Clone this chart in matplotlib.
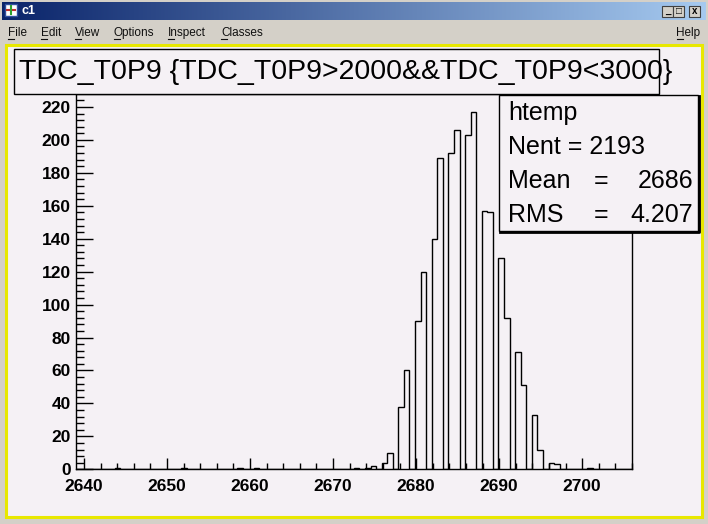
import matplotlib
matplotlib.use('Agg')
import matplotlib.pyplot as plt
import numpy as np
from matplotlib.patches import Rectangle
from matplotlib.ticker import MultipleLocator

plt.rcParams['font.family'] = ['Liberation Sans', 'DejaVu Sans']

# TDC values (integer channels) and entries per channel
tdc_values = [2644, 2652, 2659, 2661, 2673, 2674, 2675, 2676, 2677,
              2678, 2679, 2680, 2681, 2682, 2683, 2684, 2685, 2686, 2687,
              2688, 2689, 2690, 2691, 2692, 2693, 2694, 2695, 2696, 2697, 2701]
tdc_counts = [1, 1, 1, 1, 1, 1, 2, 4, 10,
              38, 60, 90, 120, 140, 189, 192, 206, 203, 217,
              157, 156, 128, 92, 71, 51, 33, 12, 4, 3, 1]
n_bins = 100
x_range = (2639, 2706)

title = 'TDC_T0P9 {TDC_T0P9>2000&&TDC_T0P9<3000}'
stats_name = 'htemp'
stats_nent = '2193'
stats_mean = '2686'
stats_rms = '4.207'
menu_items = ['File', 'Edit', 'View', 'Options', 'Inspect', 'Classes']
menu_x = [8, 41, 75, 114, 168, 221]

W, H = 708, 524
canvas_col = '#f5f1f5'
fig = plt.figure(figsize=(W / 100, H / 100), dpi=100, facecolor='#d4d0c8')

# ---- window chrome (pixel coordinates, origin top-left)
bg = fig.add_axes([0, 0, 1, 1], zorder=0)
bg.set_xlim(0, W)
bg.set_ylim(H, 0)
bg.axis('off')

grad = np.linspace(0, 1, 256).reshape(1, -1)
cmap = matplotlib.colors.LinearSegmentedColormap.from_list('tb', ['#0a246a', '#a6caf0'])
bg.imshow(grad, cmap=cmap, extent=(2, W - 2, 20, 2), aspect='auto', zorder=1)
bg.add_patch(Rectangle((5, 4), 12, 12, facecolor='#ffffff', edgecolor='#3050a0', lw=1, zorder=2))
bg.plot([7, 15], [10, 10], color='#c03030', lw=1.5, zorder=3)
bg.plot([11, 11], [6, 14], color='#30a030', lw=1.5, zorder=3)
bg.text(21, 11.5, 'c1', color='white', fontsize=9, fontweight='bold', va='center', zorder=3)
for bx, glyph in zip([662, 673, 689], ['_', '□', 'x']):
    bg.add_patch(Rectangle((bx, 6), 11, 11, facecolor='#d4d0c8', edgecolor='#404040', lw=0.8, zorder=2))
    bg.text(bx + 5.5, 11.5, glyph, fontsize=7, fontweight='bold', ha='center', va='center', zorder=3)

for name, mx in zip(menu_items, menu_x):
    bg.text(mx, 36, name, fontsize=8.5, va='baseline', color='#101010')
    bg.plot([mx, mx + 5.5], [38.5, 38.5], color='#101010', lw=0.8)
bg.text(700, 36, 'Help', fontsize=8.5, va='baseline', ha='right', color='#101010')
bg.plot([677, 683], [38.5, 38.5], color='#101010', lw=0.8)

bg.add_patch(Rectangle((5.5, 45), 696.5, 472, facecolor=canvas_col,
                       edgecolor='#e8e800', lw=2.2, zorder=1))

# ---- histogram pad
L, R, T, B = 75.7, 632, 94, 469.3
ax = fig.add_axes([L / W, (H - B) / H, (R - L) / W, (B - T) / H], zorder=1)
ax.set_facecolor(canvas_col)
ax.hist(tdc_values, bins=n_bins, range=x_range, weights=tdc_counts,
        histtype='step', color='black', lw=1)
ax.set_xlim(*x_range)
ax.set_ylim(0, 1.05 * max(tdc_counts))
ax.xaxis.set_major_locator(MultipleLocator(10))
ax.xaxis.set_minor_locator(MultipleLocator(2))
ax.yaxis.set_major_locator(MultipleLocator(20))
ax.yaxis.set_minor_locator(MultipleLocator(4))
ax.tick_params(axis='x', which='major', direction='in', length=8, width=1, pad=7, labelsize=12.5)
ax.tick_params(axis='x', which='minor', direction='in', length=4, width=1)
ax.tick_params(axis='y', which='major', direction='in', length=12, width=1, pad=3.5, labelsize=12.5)
ax.tick_params(axis='y', which='minor', direction='in', length=6, width=1)
for lab in ax.get_xticklabels() + ax.get_yticklabels():
    lab.set_fontweight('bold')
for sp in ax.spines.values():
    sp.set_linewidth(1)

# ---- title and stats boxes
fg = fig.add_axes([0, 0, 1, 1], zorder=5)
fg.set_xlim(0, W)
fg.set_ylim(H, 0)
fg.axis('off')
fg.patch.set_visible(False)

fg.add_patch(Rectangle((13.5, 49), 645.5, 45, facecolor=canvas_col, edgecolor='black', lw=1))
fg.text(19, 72, title, fontsize=20.5, va='center', ha='left', clip_on=False)

fg.plot([500, 699, 699], [231.5, 231.5, 96], color='black', lw=2)
fg.add_patch(Rectangle((498.5, 94.5), 199, 136, facecolor=canvas_col, edgecolor='black', lw=1))
fs = 18
fg.text(508, 113, stats_name, fontsize=fs, va='center')
fg.text(508, 147, 'Nent = ' + stats_nent, fontsize=fs, va='center')
fg.text(508, 181, 'Mean', fontsize=fs, va='center')
fg.text(601, 181, '=', fontsize=fs, va='center', ha='center')
fg.text(693, 181, stats_mean, fontsize=fs, va='center', ha='right')
fg.text(508, 215, 'RMS', fontsize=fs, va='center')
fg.text(601, 215, '=', fontsize=fs, va='center', ha='center')
fg.text(693, 215, stats_rms, fontsize=fs, va='center', ha='right')

fig.savefig('out.png', dpi=100, facecolor=fig.get_facecolor())
